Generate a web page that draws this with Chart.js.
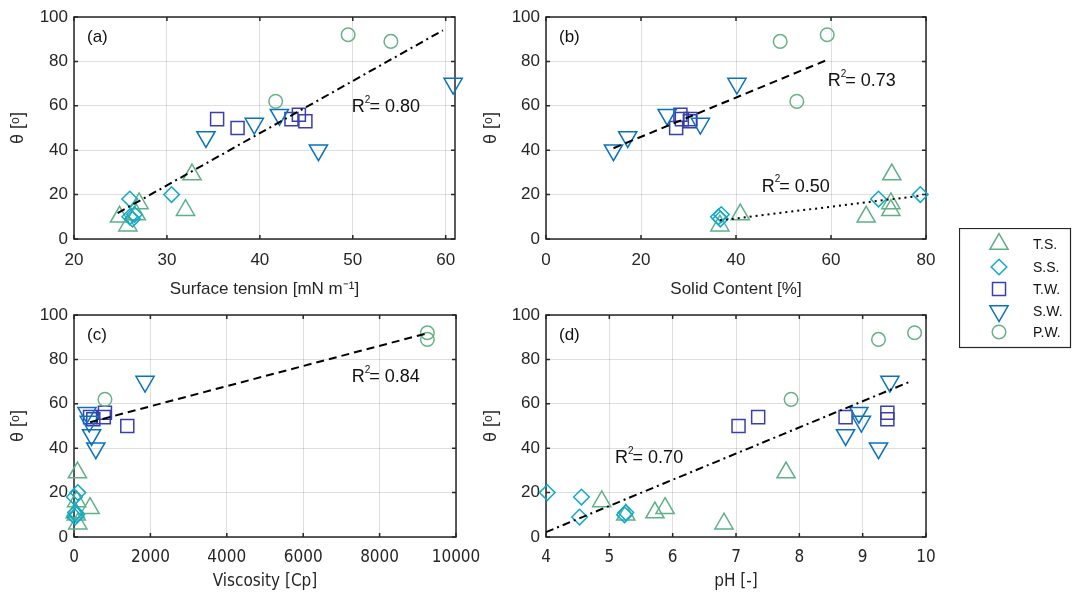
<!DOCTYPE html>
<html>
<head>
<meta charset="utf-8">
<script src="https://cdn.jsdelivr.net/npm/chart.js@4.4.1/dist/chart.umd.min.js"></script>
<style>
  body { margin: 0; background: #fff; width: 1073px; height: 596px; overflow: hidden; position: relative; }
  canvas { position: absolute; }
</style>
</head>
<body>
<canvas id="pa" width="480" height="300" style="left:0;top:0"></canvas>
<canvas id="pb" width="480" height="300" style="left:480px;top:0"></canvas>
<canvas id="pc" width="480" height="296" style="left:0;top:300px"></canvas>
<canvas id="pd" width="480" height="296" style="left:480px;top:300px"></canvas>
<canvas id="legend" width="113" height="121" style="left:959px;top:228px"></canvas>
<script>
const seriesNames = ['T.S.', 'S.S.', 'T.W.', 'S.W.', 'P.W.'];

// contact angle [deg], same samples in every panel
const thetaTS = [29, 16, 13, 11, 10, 6];
const thetaSS = [20, 18, 11, 10, 9];
const thetaTW = [56, 54, 54, 53, 50];
const thetaSW = [70, 56, 52, 46, 40];
const thetaPW = [92, 89, 62];

// (a) surface tension [mN m-1]
const tensionTS = [32.7, 27.0, 32.0, 26.7, 24.9, 25.8];
const tensionSS = [30.5, 26.0, 26.5, 26.0, 26.3];
const tensionTW = [44.2, 35.4, 43.4, 44.9, 37.6];
const tensionSW = [60.8, 42.1, 39.4, 34.2, 46.3];
const tensionPW = [49.5, 54.1, 41.7];

// (b) solid content [%]
const solidTS = [72.8, 72.6, 72.6, 40.9, 67.4, 36.6];
const solidSS = [78.8, 70.0, 36.9, 36.3, 36.7];
const solidTW = [28.3, 28.6, 30.4, 30.3, 27.4];
const solidSW = [40.2, 25.5, 32.5, 17.2, 14.2];
const solidPW = [59.2, 49.3, 52.8];

// (c) viscosity [cP]
const viscTS = [90, 70, 420, 30, 60, 100];
const viscSS = [100, 10, 40, 70, 30];
const viscTW = [810, 420, 780, 505, 1395];
const viscSW = [1860, 340, 400, 460, 570];
const viscPW = [9250, 9250, 810];

// (d) pH
const phTS = [7.79, 4.88, 5.88, 5.72, 5.26, 6.81];
const phSS = [4.02, 4.56, 5.26, 5.24, 4.53];
const phTW = [9.39, 8.73, 7.35, 9.39, 7.04];
const phSW = [9.43, 8.94, 8.98, 8.73, 9.25];
const phPW = [9.82, 9.25, 7.87];

// fitted lines, end points
const fitAx = [24.7, 59.7], fitAy = [11.7, 94.0];
const fitB1x = [14.2, 59.0], fitB1y = [40.9, 80.5];
const fitB2x = [36.6, 78.8], fitB2y = [8.4, 19.5];
const fitCx = [420, 9254], fitCy = [51.7, 91.8];
const fitDx = [4.0, 9.75], fitDy = [2.2, 70.0];

// tick values
const thetaTicks = [0, 20, 40, 60, 80, 100];
const tensionTicks = [20, 30, 40, 50, 60];
const solidTicks = [0, 20, 40, 60, 80];
const viscTicks = [0, 2000, 4000, 6000, 8000, 10000];
const phTicks = [4, 5, 6, 7, 8, 9, 10];

const thetas = [thetaTS, thetaSS, thetaTW, thetaSW, thetaPW];
const styles = [
  { color: '#5fb089', shape: 'triangle', r: 10.5, rot: 0 },
  { color: '#12aac8', shape: 'rectRot', r: 7.8, rot: 0 },
  { color: '#3a3fae', shape: 'rect', r: 9.2, rot: 0 },
  { color: '#0a72bd', shape: 'triangle', r: 10.5, rot: 180 },
  { color: '#66b386', shape: 'circle', r: 6.8, rot: 0 }
];

const FONT = "'Liberation Sans', Arial, sans-serif";
const NARROW = "'Liberation Sans Narrow', 'DejaVu Sans Condensed', 'Liberation Sans', sans-serif";

const zip = (xs, ys) => xs.map((x, i) => ({ x: x, y: ys[i] }));

const frame = {
  id: 'frame',
  beforeDatasetsDraw(chart) {
    const { ctx, chartArea: a, scales: { x, y } } = chart;
    ctx.save();
    ctx.strokeStyle = '#262626';
    ctx.lineWidth = 1.5;
    ctx.strokeRect(a.left, a.top, a.right - a.left, a.bottom - a.top);
    ctx.beginPath();
    x.ticks.forEach(t => {
      const px = x.getPixelForValue(t.value);
      ctx.moveTo(px, a.bottom); ctx.lineTo(px, a.bottom - 4);
      ctx.moveTo(px, a.top); ctx.lineTo(px, a.top + 4);
    });
    y.ticks.forEach(t => {
      const py = y.getPixelForValue(t.value);
      ctx.moveTo(a.left, py); ctx.lineTo(a.left + 4, py);
      ctx.moveTo(a.right, py); ctx.lineTo(a.right - 4, py);
    });
    ctx.stroke();
    ctx.restore();
  },
  afterDraw(chart, args, opts) {
    const { ctx, chartArea: a, scales: { x, y } } = chart;
    ctx.save();
    ctx.fillStyle = '#111';
    ctx.textBaseline = 'middle';
    ctx.font = '17px ' + FONT;
    ctx.fillText(opts.tag, a.left + 13, a.top + 20);
    (opts.r2 || []).forEach(l => {
      let px = x.getPixelForValue(l.at[0]);
      const py = y.getPixelForValue(l.at[1]);
      ctx.font = '18px ' + FONT;
      ctx.fillText('R', px, py);
      px += ctx.measureText('R').width;
      ctx.font = '10px ' + FONT;
      ctx.fillText('2', px, py - 7);
      px += ctx.measureText('2').width - 1;
      ctx.font = '18px ' + FONT;
      ctx.fillText('= ' + l.text, px, py);
    });
    ctx.restore();
  }
};

function makePanel(id, xs, xMin, xMax, xTicks, xTitle, fits, tag, r2, box, narrow) {
  const datasets = xs.map((xv, i) => ({
    label: seriesNames[i],
    data: zip(xv, thetas[i]),
    pointStyle: styles[i].shape,
    pointRotation: styles[i].rot,
    pointRadius: styles[i].r,
    pointBorderWidth: 1.5,
    pointBorderColor: styles[i].color,
    pointBackgroundColor: 'rgba(0,0,0,0)',
    clip: false,
    order: 5 - i
  }));
  fits.forEach(f => datasets.push({
    data: zip(f.x, f.y),
    showLine: true,
    borderColor: '#000',
    borderWidth: 2,
    borderDash: f.dash,
    pointRadius: 0,
    clip: false,
    order: 0
  }));
  const tickFont = { family: narrow ? NARROW : FONT, size: 17 };
  return new Chart(document.getElementById(id), {
    type: 'scatter',
    data: { datasets: datasets },
    options: {
      responsive: false,
      animation: false,
      events: [],
      layout: { padding: { left: 0, top: box.top, right: box.right, bottom: 0 } },
      plugins: {
        legend: { display: false },
        tooltip: { enabled: false },
        frame: { tag: tag, r2: r2 }
      },
      scales: {
        x: {
          type: 'linear',
          min: xMin, max: xMax,
          afterBuildTicks: s => { s.ticks = xTicks.map(v => ({ value: v })); },
          afterFit: s => { s.height = box.xh; s.paddingLeft = 0; s.paddingRight = 0; },
          grid: { color: 'rgba(0,0,0,0.13)', drawTicks: false },
          border: { display: false },
          ticks: { color: '#262626', font: tickFont, padding: box.xpad, maxRotation: 0, autoSkip: false, callback: v => String(v) },
          title: { display: true, text: xTitle, color: '#262626', font: { family: narrow ? NARROW : FONT, size: 17 }, padding: { top: 0, bottom: box.tpb } }
        },
        y: {
          type: 'linear',
          min: 0, max: 100,
          afterBuildTicks: s => { s.ticks = thetaTicks.map(v => ({ value: v })); },
          afterFit: s => { s.width = box.yw; s.paddingTop = 0; s.paddingBottom = 0; },
          grid: { color: 'rgba(0,0,0,0.13)', drawTicks: false },
          border: { display: false },
          ticks: { color: '#262626', font: { family: FONT, size: 17 }, padding: 6, callback: v => String(v) },
          title: { display: true, text: 'θ [ᵒ]', color: '#262626', font: { family: FONT, size: 18 }, padding: { top: box.tpt, bottom: 0 } }
        }
      }
    },
    plugins: [frame]
  });
}

makePanel('pa', [tensionTS, tensionSS, tensionTW, tensionSW, tensionPW], 20, 61, tensionTicks,
  'Surface tension [mN m⁻¹]',
  [{ x: fitAx, y: fitAy, dash: [8, 4, 2, 4] }],
  '(a)', [{ at: [49.9, 59.5], text: '0.80' }],
  { top: 17, right: 25, xh: 61, yw: 74, xpad: 11, tpb: 0, tpt: 7 }, false);

makePanel('pb', [solidTS, solidSS, solidTW, solidSW, solidPW], 0, 80, solidTicks,
  'Solid Content [%]',
  [{ x: fitB1x, y: fitB1y, dash: [8, 5] }, { x: fitB2x, y: fitB2y, dash: [2, 4] }],
  '(b)', [{ at: [59.3, 71.2], text: '0.73' }, { at: [45.4, 23.6], text: '0.50' }],
  { top: 17, right: 34, xh: 61, yw: 66, xpad: 11, tpb: 0, tpt: 0 }, false);

makePanel('pc', [viscTS, viscSS, viscTW, viscSW, viscPW], 0, 10000, viscTicks,
  'Viscosity [Cp]',
  [{ x: fitCx, y: fitCy, dash: [8, 5] }],
  '(c)', [{ at: [7270, 71.9], text: '0.84' }],
  { top: 15, right: 24, xh: 59, yw: 74, xpad: 10, tpb: 4, tpt: 7 }, true);

makePanel('pd', [phTS, phSS, phTW, phSW, phPW], 4, 10, phTicks,
  'pH [-]',
  [{ x: fitDx, y: fitDy, dash: [8, 4, 2, 4] }],
  '(d)', [{ at: [5.09, 35.4], text: '0.70' }],
  { top: 15, right: 34, xh: 59, yw: 66, xpad: 10, tpb: 4, tpt: 0 }, true);

// shared legend box
(function drawLegend() {
  const c = document.getElementById('legend');
  const ctx = c.getContext('2d');
  ctx.strokeStyle = '#262626';
  ctx.lineWidth = 1.2;
  ctx.strokeRect(0.5, 0.5, 111, 119);
  const rows = [16, 39, 61, 83, 104];
  const mx = 40;
  seriesNames.forEach((name, i) => {
    const s = styles[i];
    const y = rows[i];
    const r = s.r;
    ctx.save();
    ctx.strokeStyle = s.color;
    ctx.lineWidth = 1.5;
    ctx.beginPath();
    if (s.shape === 'triangle') {
      const d = s.rot ? -1 : 1;
      ctx.moveTo(mx, y - d * r);
      ctx.lineTo(mx + r * Math.sin(Math.PI / 3), y + d * r / 2);
      ctx.lineTo(mx - r * Math.sin(Math.PI / 3), y + d * r / 2);
      ctx.closePath();
    } else if (s.shape === 'rectRot') {
      ctx.moveTo(mx - r, y); ctx.lineTo(mx, y - r); ctx.lineTo(mx + r, y); ctx.lineTo(mx, y + r);
      ctx.closePath();
    } else if (s.shape === 'rect') {
      const h = r * Math.SQRT1_2;
      ctx.rect(mx - h, y - h, 2 * h, 2 * h);
    } else {
      ctx.arc(mx, y, r, 0, Math.PI * 2);
    }
    ctx.stroke();
    ctx.restore();
    ctx.fillStyle = '#111';
    ctx.font = '14px ' + FONT;
    ctx.textBaseline = 'middle';
    ctx.fillText(name, 74, y + 1);
  });
})();
</script>
</body>
</html>
